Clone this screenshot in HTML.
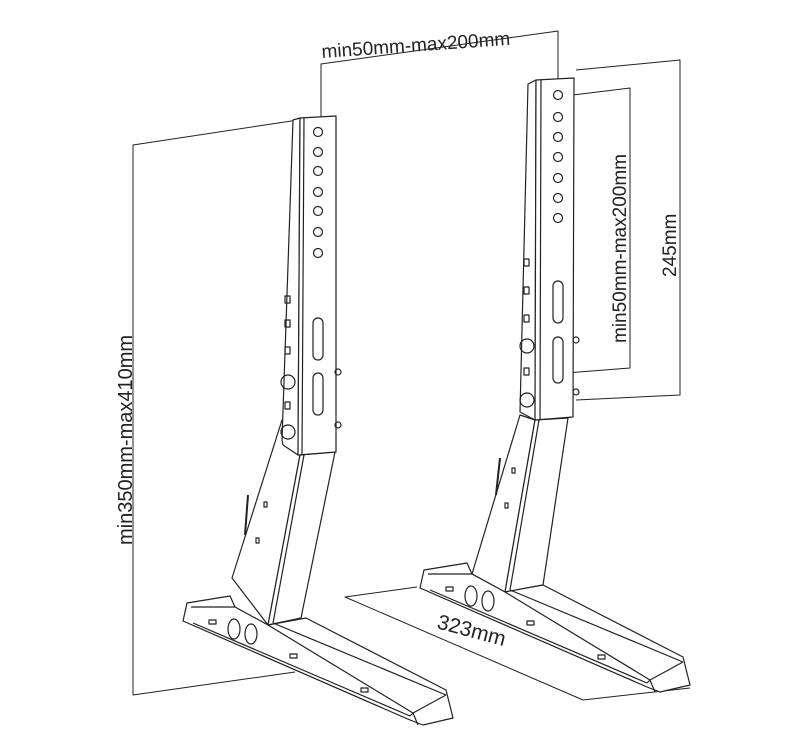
<!DOCTYPE html>
<html><head><meta charset="utf-8"><style>
html,body{margin:0;padding:0;background:#fff;}
svg{display:block;}
text{font-family:"Liberation Sans","DejaVu Sans",sans-serif;fill:#222;}
</style></head><body>
<svg width="800" height="730" viewBox="0 0 800 730" xmlns="http://www.w3.org/2000/svg">
<defs>
<g id="base">
<polygon points="424,570 467,563 472,574 505,592 543,585 683,657 690,685 660,692 647,687 420,588" fill="#fff"/>
<line x1="428" y1="574" x2="472" y2="574"/>
<line x1="430" y1="590" x2="647" y2="683"/>
<line x1="505" y1="592" x2="650" y2="680"/>
<line x1="510" y1="590" x2="683" y2="662"/>
<polyline points="647,683 650,680 683,662"/>
<line x1="650" y1="680" x2="655" y2="692"/>
<ellipse cx="471" cy="596" rx="6" ry="10"/>
<ellipse cx="488" cy="601" rx="6" ry="10"/>
<rect x="446" y="587" width="7" height="4"/>
<rect x="527" y="621" width="7" height="4"/>
<rect x="598" y="655" width="7" height="4"/>
</g>
</defs>
<g fill="none" stroke="#222" stroke-width="1.2" stroke-linejoin="round">
<!-- dimension lines -->
<polyline points="321,125 321,64 558,31 558,95" stroke-width="1"/>
<polyline points="298,120 133,145 133,695 295,672" stroke-width="1"/>
<polyline points="576,70 680,60 680,395 576,400" stroke-width="1"/>
<polyline points="565,96 630,88 630,368 566,373" stroke-width="1"/>
<polyline points="417,587 345,597 583,700 690,688" stroke-width="1"/>

<!-- LEFT STAND -->
<polygon points="282,420 300,455 268,625 232,578" fill="#fff"/>
<polygon points="300,455 335,452 301,618 268,625" fill="#fff"/>
<line x1="304" y1="455" x2="273" y2="623"/>
<use href="#base" transform="translate(-237,33)"/>
<line x1="248" y1="495" x2="245" y2="535" stroke-width="2"/>
<rect x="264" y="502" width="3" height="5"/>
<rect x="256" y="538" width="3" height="5"/>
<polygon points="293,120 300,118 298,455 283,445 282,440" fill="#fff"/>
<polygon points="300,118 336,116 336,452 298,455" fill="#fff"/>
<line x1="304" y1="118" x2="302" y2="455"/>
<circle cx="318" cy="132" r="4.5"/><circle cx="318" cy="152" r="4.5"/><circle cx="318" cy="171" r="4.5"/>
<circle cx="318" cy="192" r="4.5"/><circle cx="318" cy="211" r="4.5"/><circle cx="318" cy="232" r="4.5"/><circle cx="318" cy="253" r="4.5"/>
<rect x="313" y="318" width="10" height="42" rx="5"/>
<rect x="313" y="373" width="10" height="42" rx="5"/>
<rect x="285" y="296" width="5" height="7"/><rect x="285" y="320" width="5" height="7"/><rect x="285" y="347" width="5" height="7"/><rect x="285" y="402" width="5" height="7"/>
<circle cx="288" cy="382" r="7"/><circle cx="288" cy="432" r="7"/>
<circle cx="338" cy="372" r="3"/><circle cx="338" cy="425" r="3"/>

<!-- RIGHT STAND -->
<polygon points="520,415 535,420 505,592 472,574" fill="#fff"/>
<polygon points="535,420 568,418 543,585 505,592" fill="#fff"/>
<line x1="539" y1="420" x2="510" y2="590"/>
<use href="#base"/>
<line x1="500" y1="458" x2="496" y2="495" stroke-width="2"/>
<rect x="512" y="468" width="3" height="5"/>
<rect x="505" y="503" width="3" height="5"/>
<polygon points="528,84 536,80 535,420 520,412" fill="#fff"/>
<polygon points="536,80 574,78 573,417 535,420" fill="#fff"/>
<line x1="541" y1="80" x2="540" y2="420"/>
<circle cx="558" cy="95" r="4.5"/><circle cx="558" cy="117" r="4.5"/><circle cx="558" cy="137" r="4.5"/>
<circle cx="558" cy="157" r="4.5"/><circle cx="558" cy="178" r="4.5"/><circle cx="558" cy="198" r="4.5"/><circle cx="558" cy="218" r="4.5"/>
<rect x="553" y="281" width="10" height="42" rx="5"/>
<rect x="553" y="337" width="10" height="46" rx="5"/>
<rect x="524" y="259" width="5" height="7"/><rect x="524" y="287" width="5" height="7"/><rect x="524" y="315" width="5" height="7"/><rect x="524" y="368" width="5" height="7"/>
<circle cx="527" cy="346" r="7"/><circle cx="527" cy="400" r="7"/>
<circle cx="576" cy="340" r="3"/><circle cx="576" cy="392" r="3"/>
</g>
<text x="322" y="58" font-size="19" transform="rotate(-4 322 58)">min50mm-max200mm</text>
<text transform="translate(132,545) rotate(-90)" font-size="20">min350mm-max410mm</text>
<text transform="translate(626,343) rotate(-90)" font-size="19">min50mm-max200mm</text>
<text transform="translate(676,277) rotate(-90)" font-size="19">245mm</text>
<text transform="translate(436,628) rotate(15)" font-size="21">323mm</text>
</svg>
</body></html>
